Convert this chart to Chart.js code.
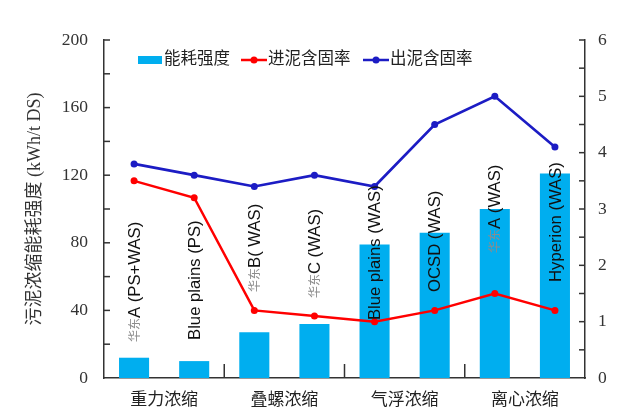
<!DOCTYPE html>
<html><head><meta charset="utf-8">
<script src="https://cdn.jsdelivr.net/npm/chart.js@4/dist/chart.umd.min.js"></script>
<style>html,body{margin:0;padding:0;background:#fff;}#wrap{width:617px;height:417px;}</style>
</head><body><div id="wrap"><canvas id="c" width="617" height="417"></canvas></div>
<script>
// ---- data ----
const categories = ['华东A (PS+WAS)', 'Blue plains (PS)', '华东B( WAS)', '华东C (WAS)', 'Blue plains (WAS)', 'OCSD (WAS)', '华东A (WAS)', 'Hyperion (WAS)'];
const groups = ['重力浓缩', '叠螺浓缩', '气浮浓缩', '离心浓缩'];
const energy = [12, 10, 27, 32, 79, 86, 100, 121];
const inletSolids = [3.5, 3.2, 1.2, 1.1, 1.0, 1.2, 1.5, 1.2];
const outletSolids = [3.8, 3.6, 3.4, 3.6, 3.4, 4.5, 5.0, 4.1];
const labelBase = [21.3, 22.5, 50.9, 47.3, 34.3, 50.9, 74, 56.8]; // left-axis value where each rotated label starts
const leftTicks = [0, 40, 80, 120, 160, 200];
const rightTicks = [0, 1, 2, 3, 4, 5, 6];
const seriesNames = ['能耗强度', '进泥含固率', '出泥含固率'];

const SERIF = '"Liberation Serif", "Noto Sans CJK SC", serif';
const SANS = '"Liberation Sans", Arial, sans-serif';
const CJK = '"Noto Sans CJK SC", sans-serif';

const custom = {
  id: 'custom',
  afterDraw(chart) {
    const ctx = chart.ctx;
    const x = chart.scales.x, y = chart.scales.y, y1 = chart.scales.y1;
    const area = chart.chartArea;
    ctx.save();
    // inside ticks
    ctx.strokeStyle = '#333';
    ctx.lineWidth = 1.5;
    for (let v = 20; v <= 200; v += 20) {
      const py = y.getPixelForValue(v);
      ctx.beginPath(); ctx.moveTo(area.left, py); ctx.lineTo(area.left + 6, py); ctx.stroke();
    }
    for (let v = 0.5; v <= 6; v += 0.5) {
      const py = y1.getPixelForValue(v);
      ctx.beginPath(); ctx.moveTo(area.right, py); ctx.lineTo(area.right - 6, py); ctx.stroke();
    }
    // group separators
    [1, 3, 5].forEach(i => {
      const px = (x.getPixelForValue(i) + x.getPixelForValue(i + 1)) / 2;
      ctx.beginPath(); ctx.moveTo(px, area.bottom); ctx.lineTo(px, area.bottom - 14); ctx.stroke();
    });
    // group labels
    ctx.fillStyle = '#222';
    ctx.font = '17px ' + SERIF;
    ctx.textAlign = 'center';
    ctx.textBaseline = 'middle';
    groups.forEach((g, k) => {
      const px = (x.getPixelForValue(2 * k) + x.getPixelForValue(2 * k + 1)) / 2;
      ctx.fillText(g, px, area.bottom + 23);
    });
    // rotated category labels
    categories.forEach((lab, i) => {
      const px = x.getPixelForValue(i);
      const py = y.getPixelForValue(labelBase[i]);
      ctx.save();
      ctx.translate(px, py);
      ctx.rotate(-Math.PI / 2);
      ctx.textAlign = 'left';
      ctx.textBaseline = 'middle';
      let off = 0;
      let rest = lab;
      if (lab.startsWith('华东')) {
        ctx.font = '12px ' + CJK;
        ctx.fillStyle = '#8c8c8c';
        ctx.fillText('华东', 0, 0);
        off = ctx.measureText('华东').width;
        rest = lab.slice(2);
      }
      ctx.font = '16.7px ' + SANS;
      ctx.fillStyle = '#111';
      ctx.fillText(rest, off, 1);
      ctx.restore();
    });
    // legend
    const ds = chart.data.datasets;
    const ly = area.top + 20;
    ctx.font = '16.5px ' + SERIF;
    ctx.textAlign = 'left';
    ctx.textBaseline = 'middle';
    ctx.fillStyle = ds[0].backgroundColor;
    ctx.fillRect(138, ly - 4, 24, 8);
    ctx.fillStyle = '#222';
    ctx.fillText(ds[0].label, 164, ly);
    [[1, 241], [2, 363]].forEach(([d, lx]) => {
      ctx.strokeStyle = ds[d].borderColor;
      ctx.lineWidth = 2.5;
      ctx.beginPath(); ctx.moveTo(lx, ly); ctx.lineTo(lx + 26, ly); ctx.stroke();
      ctx.fillStyle = ds[d].borderColor;
      ctx.beginPath(); ctx.arc(lx + 13, ly, 3.5, 0, Math.PI * 2); ctx.fill();
      ctx.fillStyle = '#222';
      ctx.fillText(ds[d].label, lx + 27, ly);
    });
    ctx.restore();
  }
};

new Chart(document.getElementById('c'), {
  type: 'bar',
  data: {
    labels: categories,
    datasets: [
      { type: 'bar', label: seriesNames[0], data: energy, backgroundColor: '#00AEEF', yAxisID: 'y', barPercentage: 0.5, categoryPercentage: 1, order: 3 },
      { type: 'line', label: seriesNames[1], data: inletSolids, borderColor: '#FF0000', backgroundColor: '#FF0000', yAxisID: 'y1', borderWidth: 2.5, pointRadius: 3.5, pointBackgroundColor: '#FF0000', pointBorderWidth: 0, tension: 0, order: 1 },
      { type: 'line', label: seriesNames[2], data: outletSolids, borderColor: '#1C1CC4', backgroundColor: '#1C1CC4', yAxisID: 'y1', borderWidth: 2.7, pointRadius: 3.5, pointBackgroundColor: '#1C1CC4', pointBorderWidth: 0, tension: 0, order: 2 }
    ]
  },
  options: {
    responsive: false,
    animation: false,
    layout: { padding: { top: 40, left: 0, right: 0, bottom: 0 } },
    plugins: { legend: { display: false }, tooltip: { enabled: false } },
    scales: {
      x: {
        grid: { display: false, drawTicks: false },
        border: { display: true, color: '#333', width: 1.5 },
        ticks: { display: false },
        afterFit: s => { s.height = 39; }
      },
      y: {
        position: 'left', min: 0, max: 200,
        grid: { display: false, drawTicks: false },
        border: { display: true, color: '#333', width: 1.5 },
        afterBuildTicks: s => { s.ticks = leftTicks.map(v => ({ value: v })); },
        ticks: { font: { family: SERIF, size: 17.5 }, color: '#333', padding: 16 },
        title: { display: true, text: '污泥浓缩能耗强度 (kWh/t DS)', font: { family: SERIF, size: 18 }, color: '#333', padding: { top: 24, bottom: 0 } },
        afterFit: s => { s.width = 104; }
      },
      y1: {
        position: 'right', min: 0, max: 6,
        grid: { display: false, drawTicks: false },
        border: { display: true, color: '#333', width: 1.5 },
        afterBuildTicks: s => { s.ticks = rightTicks.map(v => ({ value: v })); },
        ticks: { font: { family: SERIF, size: 17.5 }, color: '#333', padding: 13 },
        afterFit: s => { s.width = 32; }
      }
    }
  },
  plugins: [custom]
});
</script>
</body></html>
